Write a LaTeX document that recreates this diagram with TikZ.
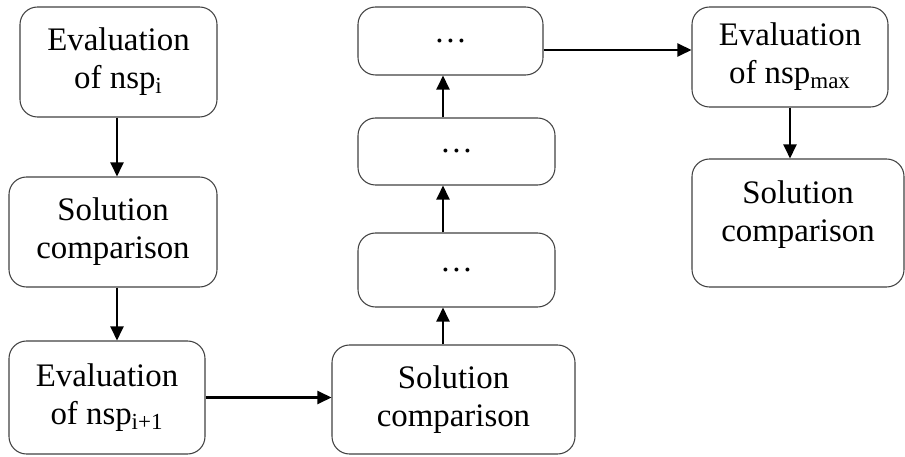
\documentclass[tikz,border=0pt]{standalone}
\usepackage{fontspec}
\setmainfont{Liberation Serif}
\usetikzlibrary{arrows.meta}
\begin{document}
\begin{tikzpicture}[
  blk/.style={draw=black!75,line width=0.6pt,rounded corners=0.35cm,inner sep=0pt,
    align=center,font=\fontsize{18.7}{21.6}\selectfont},
  flow/.style={-{Triangle[length=0.28cm,width=0.26cm]},line width=1.2pt}]
  \useasboundingbox (0,0) rectangle (18.1,9.12);
  % left column
  \node[blk,minimum width=3.94cm,minimum height=2.2cm] (evi) at (2.37,7.88)
    {Evaluation\\of nsp\textsubscript{i}};
  \node[blk,minimum width=4.16cm,minimum height=2.2cm] (cmpi) at (2.26,4.48)
    {Solution\\comparison};
  \node[blk,minimum width=3.92cm,minimum height=2.26cm] (evnext) at (2.14,1.17)
    {Evaluation\\of nsp\textsubscript{i+1}};
  % middle column
  \node[blk,minimum width=4.86cm,minimum height=2.18cm] (cmpnext) at (9.07,1.13)
    {Solution\\comparison};
  \node[blk,minimum width=3.94cm,minimum height=1.48cm] (dotsa) at (9.13,3.72) {\dots};
  \node[blk,minimum width=3.94cm,minimum height=1.34cm] (dotsb) at (9.13,6.09) {\dots};
  \node[blk,minimum width=3.7cm,minimum height=1.36cm] (dotsc) at (9.01,8.30) {\dots};
  % right column
  \node[blk,minimum width=3.92cm,minimum height=2.0cm] (evmax) at (15.8,7.98)
    {Evaluation\\of nsp\textsubscript{max}};
  \node[blk,minimum width=4.24cm,minimum height=2.56cm] (cmpmax) at (15.96,4.66)
    {Solution\\comparison\\[-0.3cm]\mbox{}};
  % connectors
  \draw[flow] ([xshift=-0.03cm]evi.south) -- ([xshift=-0.03cm]evi.south |- cmpi.north);
  \draw[flow] ([xshift=-0.03cm]evi.south |- cmpi.south) -- ([xshift=-0.03cm]evi.south |- evnext.north);
  \draw[flow] (evnext.east) -- (evnext.east -| cmpnext.west);
  \draw[flow] ([xshift=-0.15cm]cmpnext.north -| dotsc.south) -- ([xshift=-0.15cm]dotsc.south |- dotsa.south);
  \draw[flow] ([xshift=-0.15cm]dotsa.north -| dotsc.south) -- ([xshift=-0.15cm]dotsc.south |- dotsb.south);
  \draw[flow] ([xshift=-0.15cm]dotsb.north -| dotsc.south) -- ([xshift=-0.15cm]dotsc.south);
  \draw[flow] ([yshift=-0.18cm]dotsc.east) -- ([yshift=-0.18cm]dotsc.east -| evmax.west);
  \draw[flow] (evmax.south) -- (evmax.south |- cmpmax.north);
\end{tikzpicture}
\end{document}
